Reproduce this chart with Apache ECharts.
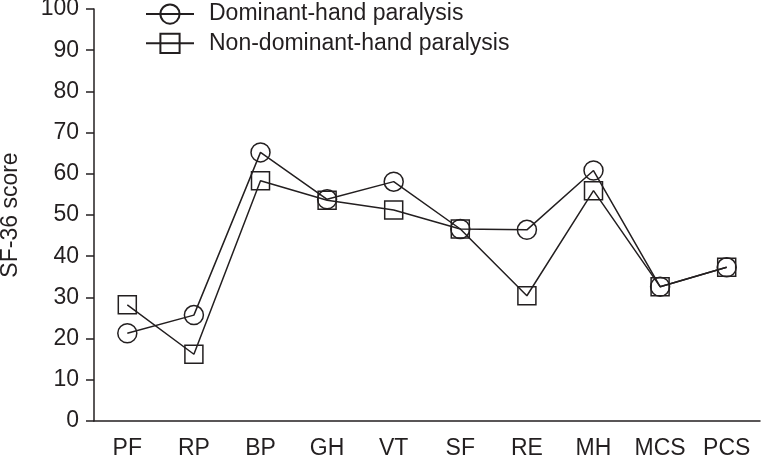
<!DOCTYPE html>
<html>
<head>
<meta charset="utf-8">
<script src="https://cdn.jsdelivr.net/npm/echarts@6/dist/echarts.min.js"></script>
<style>
  html, body { margin: 0; padding: 0; background: #fff; }
  #chart { width: 762px; height: 457px; }
</style>
</head>
<body>
<div id="chart"></div>
<script>
var categories = ['PF', 'RP', 'BP', 'GH', 'VT', 'SF', 'RE', 'MH', 'MCS', 'PCS'];
var dominant = [21.3, 25.7, 65.2, 53.8, 58.1, 46.6, 46.4, 60.8, 32.6, 37.3];
var nonDominant = [28.2, 16.2, 58.3, 53.6, 51.2, 46.6, 30.4, 55.9, 32.6, 37.3];

var ink = '#231f20';
var font = 'Liberation Sans';

var myChart = echarts.init(document.getElementById('chart'));
var option = {
	animation: false,
	textStyle: { fontFamily: font, color: ink },
	grid: { left: 94, top: 9, right: 2, bottom: 36, containLabel: false, outerBoundsMode: 'none' },
	legend: {
		orient: 'vertical',
		left: 145,
		top: 2,
		padding: 0,
		itemWidth: 48,
		itemHeight: 24,
		itemGap: 5,
		textStyle: { fontFamily: font, fontSize: 23, color: ink, padding: [0, 0, 0, 10] },
		data: ['Dominant-hand paralysis', 'Non-dominant-hand paralysis']
	},
	xAxis: {
		type: 'category',
		data: categories,
		boundaryGap: true,
		axisLine: { lineStyle: { color: ink, width: 1.5 } },
		axisTick: { length: 8, lineStyle: { color: ink, width: 1.5 } },
		axisLabel: { fontFamily: font, fontSize: 23, color: ink, margin: 16, interval: 0, hideOverlap: false }
	},
	yAxis: {
		type: 'value',
		min: 0,
		max: 100,
		interval: 10,
		name: 'SF-36 score',
		nameLocation: 'middle',
		nameGap: 72,
		nameTextStyle: { fontFamily: font, fontSize: 23, color: ink },
		splitLine: { show: false },
		axisLine: { show: true, lineStyle: { color: ink, width: 1.5 } },
		axisTick: { show: true, length: 8, lineStyle: { color: ink, width: 1.5 } },
		axisLabel: { fontFamily: font, fontSize: 23, color: ink, margin: 15 }
	},
	series: [
		{
			name: 'Dominant-hand paralysis',
			type: 'line',
			data: dominant,
			symbol: 'circle',
			symbolSize: 19,
			lineStyle: { color: ink, width: 1.5 },
			itemStyle: { color: 'none', borderColor: ink, borderWidth: 1.5 }
		},
		{
			name: 'Non-dominant-hand paralysis',
			type: 'line',
			data: nonDominant,
			symbol: 'rect',
			symbolSize: 18,
			lineStyle: { color: ink, width: 1.5 },
			itemStyle: { color: 'none', borderColor: ink, borderWidth: 1.5 }
		}
	]
};
myChart.setOption(option);
</script>
</body>
</html>
